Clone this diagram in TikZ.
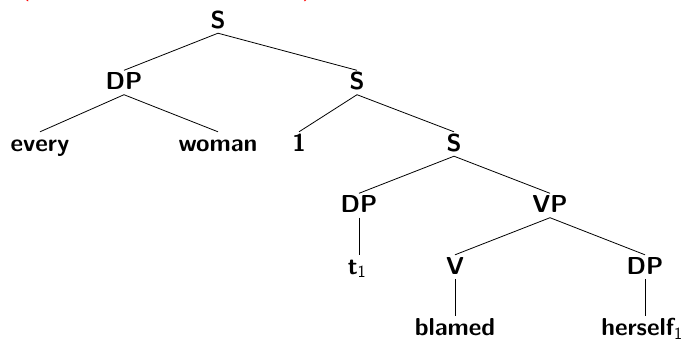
\documentclass[tikz,border=0pt]{standalone}
\newcommand{\subone}{\textsubscript{\mdseries 1}}
\begin{document}
\begin{tikzpicture}[x=1pt,y=-1pt,
  tn/.style={anchor=base, font=\fontsize{24.5}{29}\selectfont\sffamily\bfseries,
    text height=17pt, text depth=3pt, inner xsep=0pt, inner ysep=2pt},
  br/.style={line width=0.8pt, black}]
\useasboundingbox (0,0) rectangle (688,341);
\node[anchor=base west, inner sep=0pt, text=red,
  font=\fontsize{24.5}{29}\selectfont\sffamily] (title) at (-60,-4.5)
  {Binding (every woman blamed herself)};
% rows
\node[tn] (s0) at (218,28) {S};
\node[tn] (dp1) at (124,89.5) {DP};
\node[tn] (s1) at (357,89.5) {S};
\node[tn] (every) at (40,151) {every};
\node[tn] (woman) at (218,151) {woman};
\node[tn] (one) at (299,151) {1};
\node[tn] (s2) at (454,151) {S};
\node[tn] (dp2) at (359,212.5) {DP};
\node[tn] (vp) at (550,212.5) {VP};
\node[tn] (t) at (357,274) {t\subone};
\node[tn] (v) at (455,274) {V};
\node[tn] (dp3) at (645,274) {DP};
\node[tn] (blamed) at (455,335.5) {blamed};
\node[tn] (herself) at (642,335.5) {herself\subone};
% branches
\draw[br] (s0.south) -- (dp1.north);
\draw[br] (s0.south) -- (s1.north);
\draw[br] (dp1.south) -- (every.north);
\draw[br] (dp1.south) -- (woman.north);
\draw[br] (s1.south) -- (one.north);
\draw[br] (s1.south) -- (s2.north);
\draw[br] (s2.south) -- (dp2.north);
\draw[br] (s2.south) -- (vp.north);
\draw[br] (dp2.south) -- (dp2.south |- t.north);
\draw[br] (vp.south) -- (v.north);
\draw[br] (vp.south) -- (dp3.north);
\draw[br] (v.south) -- (blamed.north);
\draw[br] (dp3.south) -- (dp3.south |- herself.north);
\end{tikzpicture}
\end{document}
